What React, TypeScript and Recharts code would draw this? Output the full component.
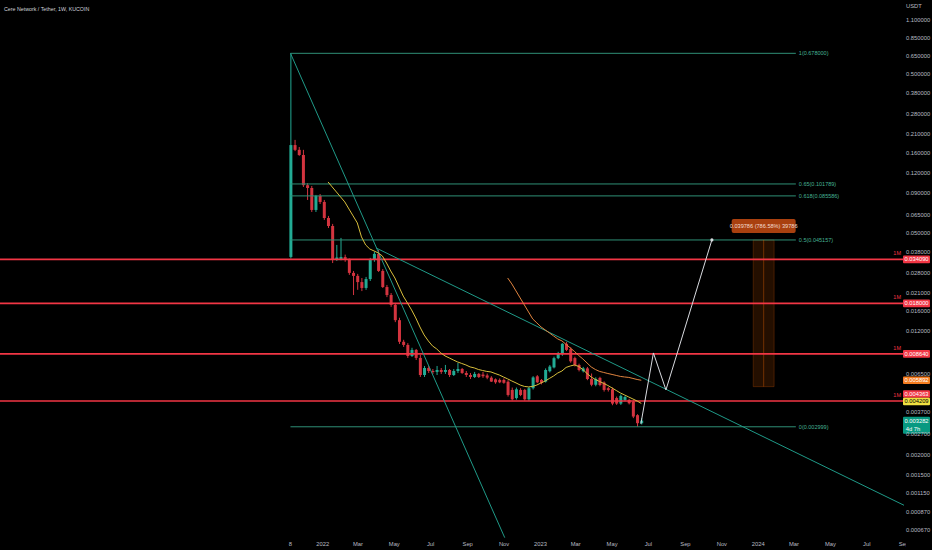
import React from "react";
import { ComposedChart, Bar, Line, XAxis, YAxis, ReferenceLine, ReferenceArea, ReferenceDot } from "recharts";

// weekly candles from the week of Nov 8 2021 (index = week number)
const opens = [
  0.0353, 0.179, 0.167, 0.155, 0.100, 0.0960, 0.0698, 0.0855, 0.0784, 0.0621,
  0.0553, 0.0338, 0.0342, 0.0352, 0.0343, 0.0280, 0.0268, 0.0245, 0.0225, 0.0256,
  0.0338, 0.0369, 0.0288, 0.0228, 0.0203, 0.0176, 0.0141, 0.0103, 0.00984, 0.00838,
  0.00915, 0.00815, 0.00636, 0.00704, 0.00674, 0.00665, 0.00684, 0.00665, 0.00684, 0.00636,
  0.00674, 0.00694, 0.00655, 0.00636, 0.00618, 0.00646, 0.00640, 0.00632, 0.00612, 0.00597,
  0.00592, 0.00592, 0.00577, 0.00512, 0.00455, 0.00512, 0.00512, 0.00447, 0.00525, 0.00624,
  0.00592, 0.00578, 0.00672, 0.00710, 0.00812, 0.00860, 0.0100, 0.00926, 0.00813, 0.00736,
  0.00672, 0.00700, 0.00600, 0.00552, 0.00610, 0.00570, 0.00525, 0.00517, 0.00455, 0.00420,
  0.00443, 0.00443, 0.00432, 0.00355, 0.00316,
];
const highs = [
  0.678, 0.193, 0.174, 0.167, 0.103, 0.0989, 0.0868, 0.0880, 0.0807, 0.0640,
  0.0570, 0.0420, 0.0465, 0.0365, 0.0345, 0.0288, 0.0276, 0.0260, 0.0264, 0.0348,
  0.0379, 0.0391, 0.0296, 0.0235, 0.0209, 0.0181, 0.0146, 0.0106, 0.0101, 0.00944,
  0.00928, 0.00851, 0.00725, 0.00725, 0.00694, 0.00725, 0.00704, 0.00736, 0.00694, 0.00694,
  0.00758, 0.00704, 0.00674, 0.00655, 0.00665, 0.00655, 0.00665, 0.00650, 0.00625, 0.00605,
  0.00605, 0.00605, 0.00590, 0.00530, 0.00530, 0.00525, 0.00520, 0.00535, 0.00625, 0.00635,
  0.00600, 0.00700, 0.00735, 0.00830, 0.00890, 0.0101, 0.0103, 0.00950, 0.00830, 0.00750,
  0.00715, 0.00715, 0.00650, 0.00615, 0.00620, 0.00580, 0.00535, 0.00530, 0.00465, 0.00480,
  0.00470, 0.00450, 0.00440, 0.00360, 0.00340,
];
const lows = [
  0.0345, 0.164, 0.153, 0.0974, 0.0807, 0.0678, 0.0678, 0.0761, 0.0604, 0.0537,
  0.0323, 0.0333, 0.0336, 0.0329, 0.0272, 0.0203, 0.0219, 0.0215, 0.0219, 0.0249,
  0.0329, 0.0284, 0.0225, 0.0197, 0.0171, 0.0137, 0.00998, 0.00956, 0.00815, 0.00826,
  0.00791, 0.00618, 0.00618, 0.00655, 0.00646, 0.00636, 0.00646, 0.00646, 0.00618, 0.00627,
  0.00655, 0.00646, 0.00618, 0.00600, 0.00609, 0.00609, 0.00610, 0.00598, 0.00575, 0.00560,
  0.00565, 0.00560, 0.00465, 0.00440, 0.00445, 0.00468, 0.00438, 0.00437, 0.00515, 0.00565,
  0.00555, 0.00570, 0.00660, 0.00700, 0.00800, 0.00840, 0.00900, 0.00760, 0.00720, 0.00670,
  0.00660, 0.00590, 0.00540, 0.00540, 0.00540, 0.00500, 0.00500, 0.00410, 0.00412, 0.00412,
  0.00435, 0.00415, 0.00340, 0.002999, 0.00310,
];
const closes = [
  0.179, 0.167, 0.155, 0.100, 0.0960, 0.0698, 0.0855, 0.0784, 0.0621, 0.0553,
  0.0338, 0.0350, 0.0352, 0.0343, 0.0280, 0.0268, 0.0245, 0.0225, 0.0256, 0.0338,
  0.0369, 0.0288, 0.0228, 0.0203, 0.0176, 0.0141, 0.0103, 0.00984, 0.00838, 0.00915,
  0.00815, 0.00636, 0.00704, 0.00674, 0.00665, 0.00684, 0.00665, 0.00684, 0.00636, 0.00674,
  0.00694, 0.00655, 0.00636, 0.00618, 0.00646, 0.00618, 0.00625, 0.00612, 0.00578, 0.00572,
  0.00572, 0.00568, 0.00476, 0.00447, 0.00517, 0.00476, 0.00447, 0.00525, 0.00614, 0.00572,
  0.00568, 0.00684, 0.00719, 0.00812, 0.00870, 0.0100, 0.00916, 0.00776, 0.00736, 0.00684,
  0.00700, 0.00600, 0.00552, 0.00600, 0.00550, 0.00512, 0.00512, 0.00420, 0.00420, 0.00470,
  0.00462, 0.00422, 0.00348, 0.00316, 0.003282,
];

// fast moving average (yellow), starts at week 9
const fastStart = 9;
const fastMa = [
  0.1048, 0.0974, 0.0906, 0.0843, 0.0784, 0.0708, 0.0640, 0.0578, 0.0472, 0.0420,
  0.0396, 0.0385, 0.0374, 0.0358, 0.0323, 0.0288, 0.0260, 0.0228, 0.0200, 0.0181,
  0.01635, 0.01456, 0.01277, 0.01137, 0.01043, 0.00970, 0.00929, 0.00876, 0.00839, 0.00815,
  0.00791, 0.00769, 0.00752, 0.00736, 0.00715, 0.00705, 0.00689, 0.00679, 0.00670, 0.00665,
  0.00650, 0.00636, 0.00618, 0.00601, 0.00583, 0.00567, 0.00550, 0.00539, 0.00535, 0.00539,
  0.00550, 0.00567, 0.00583, 0.00605, 0.00627, 0.00655, 0.00674, 0.00710, 0.00725, 0.00736,
  0.00720, 0.00689, 0.00650, 0.00618, 0.00596, 0.00579, 0.00563, 0.00546, 0.00527, 0.00508,
  0.00490, 0.00476, 0.00462, 0.00449, 0.00436, 0.004209,
];
// slow moving average (orange), starts at week 52
const slowStart = 52;
const slowMa = [
  0.0260, 0.02385, 0.02154, 0.01946, 0.01758, 0.01588, 0.01435, 0.01354, 0.01277, 0.01223,
  0.01171, 0.01121, 0.01073, 0.01043, 0.00991, 0.00942, 0.00895, 0.00845, 0.00803, 0.00758,
  0.00715, 0.00689, 0.00670, 0.00660, 0.00650, 0.00641, 0.00632, 0.00623, 0.00618, 0.00614,
  0.00605, 0.00596, 0.005892,
];

const timeTicks = [0, 7.71, 16.14, 24.86, 33.57, 42.43, 51.14, 59.86, 68.29, 77, 85.71, 94.57, 103.29, 112, 120.57, 129.29, 138, 146.86];
const timeLabels = ["8", "2022", "Mar", "May", "Jul", "Sep", "Nov", "2023", "Mar", "May", "Jul", "Sep", "Nov", "2024", "Mar", "May", "Jul", "Sep"];
const priceTicks = [1.1, 0.85, 0.65, 0.5, 0.38, 0.28, 0.21, 0.16, 0.12, 0.09, 0.065, 0.05, 0.038, 0.028, 0.021, 0.016, 0.012, 0.0065, 0.0037, 0.0027, 0.002, 0.0015, 0.00115, 0.00087, 0.00067];

const monthlyLevels = [0.03409, 0.018, 0.00864, 0.004363];
const fibRatios = [1, 0.65, 0.618, 0.5, 0];
const fibPrices = [0.678, 0.101789, 0.085586, 0.045157, 0.002999];
const fibEnd = 121;

// trend lines [week, price]
const athLine = [[0, 0.678], [51.3, 0.0006]];
const downTrend = [[20.5, 0.0402], [146.9, 0.00096]];
const pathWeeks = [83.9, 86.9, 89.9, 100.9];
const pathPrices = [0.00313, 0.00876, 0.00512, 0.045157];

const rangeWeeks = [110.8, 115.8];
const rangePrices = [0.005371, 0.045157];
const rangeText = "0.039786 (786.58%) 39786";

const lastPrice = 0.003282;
const fastLast = 0.004209;
const slowLast = 0.005892;

const UP = "#22ab94";
const DOWN = "#d3343f";
const RED = "#f23645";
const FIB = "#2f8f76";
const TEAL = "#1f9a88";
const FONT = "'Liberation Sans', Arial, sans-serif";

const rows = opens.map((o, i) => ({
  t: i,
  open: o,
  high: highs[i],
  low: lows[i],
  close: closes[i],
  range: [lows[i], highs[i]],
  fast: i >= fastStart ? fastMa[i - fastStart] : null,
  slow: i >= slowStart ? slowMa[i - slowStart] : null,
}));

function Candle(props: any) {
  const { x, y, width, height, payload } = props;
  if (!payload || height == null) return null;
  const { open, close, high, low } = payload;
  const color = close >= open ? UP : DOWN;
  const lh = Math.log(high);
  const span = lh - Math.log(low) || 1;
  const py = (v: number) => y + (height * (lh - Math.log(v))) / span;
  const top = py(Math.max(open, close));
  const bot = py(Math.min(open, close));
  const cx = x + width / 2;
  return (
    <g>
      <line x1={cx} x2={cx} y1={y} y2={y + height} stroke={color} strokeWidth={1} />
      <rect x={x} y={top} width={width} height={Math.max(bot - top, 1)} fill={color} />
    </g>
  );
}

const priceTag = (text: string, bg: string, fg: string, dy = 0, sub?: string, monthly = false) => (p: any) => {
  const vb = p.viewBox;
  const right = vb.x + vb.width;
  const cy = vb.y + dy;
  return (
    <g style={{ fontFamily: FONT }}>
      {monthly && (
        <text x={right - 3} y={vb.y - 6} dy="0.35em" textAnchor="end" fontSize={5.5} fill={RED}>1M</text>
      )}
      <rect x={right - 1} y={cy - 3.8} width={27} height={sub ? 17 : 7.6} rx={1} fill={bg} />
      <text x={right + 12.5} y={cy} dy="0.35em" textAnchor="middle" fontSize={5.8} fill={fg}>{text}</text>
      {sub && (
        <text x={right + 9} y={cy + 8} dy="0.35em" textAnchor="middle" fontSize={5.8} fill={fg}>{sub}</text>
      )}
    </g>
  );
};

const fibLabel = (text: string) => (p: any) => {
  const vb = p.viewBox;
  return (
    <text x={vb.x + vb.width + 3} y={vb.y} dy="0.35em" fontSize={5.5} fill="#45b393" style={{ fontFamily: FONT }}>
      {text}
    </text>
  );
};

const rangeLabel = (p: any) => {
  const vb = p.viewBox;
  const cx = vb.x + vb.width / 2;
  return (
    <g style={{ fontFamily: FONT }}>
      <rect x={cx - 32} y={vb.y - 21} width={64} height={14} rx={2} fill="#a9400f" />
      <text x={cx} y={vb.y - 14} dy="0.35em" textAnchor="middle" fontSize={5.6} fill="#f3ddd2">{rangeText}</text>
    </g>
  );
};

export default function App() {
  return (
    <div style={{ position: "absolute", left: 0, top: 0, width: 932, height: 550, background: "#000", overflow: "hidden", fontFamily: FONT }}>
      <ComposedChart width={932} height={550} data={rows} margin={{ top: 0, right: 0, bottom: 0, left: 0 }}>
        <XAxis
          dataKey="t"
          type="number"
          domain={[-69.55, 146.9]}
          allowDataOverflow
          ticks={timeTicks}
          interval={0}
          tickFormatter={(v: number) => timeLabels[timeTicks.indexOf(v)] ?? ""}
          height={12}
          tickSize={0}
          tickMargin={4}
          axisLine={false}
          tickLine={false}
          tick={{ fontSize: 5.8, fill: "#b8bbc3" }}
        />
        <YAxis
          orientation="right"
          scale="log"
          type="number"
          domain={[0.000597, 1.47]}
          allowDataOverflow
          ticks={priceTicks}
          interval={0}
          tickFormatter={(v: number) => v.toFixed(6)}
          width={28}
          tickSize={0}
          tickMargin={2}
          axisLine={false}
          tickLine={false}
          tick={{ fontSize: 5.8, fill: "#b8bbc3", textAnchor: "start" }}
        />

        {fibPrices.map((p, i) => (
          <ReferenceLine
            key={"fib" + i}
            segment={[{ x: 0, y: p }, { x: fibEnd, y: p }]}
            stroke={FIB}
            strokeWidth={1}
            ifOverflow="visible"
            label={fibLabel(`${fibRatios[i]}(${p.toFixed(6)})`)}
          />
        ))}

        <ReferenceArea
          x1={rangeWeeks[0]}
          x2={rangeWeeks[1]}
          y1={rangePrices[0]}
          y2={rangePrices[1]}
          fill="#ff6d00"
          fillOpacity={0.14}
          stroke="#ff6d00"
          strokeOpacity={0.22}
          ifOverflow="visible"
          label={rangeLabel}
        />
        <ReferenceLine
          segment={[{ x: (rangeWeeks[0] + rangeWeeks[1]) / 2, y: rangePrices[0] }, { x: (rangeWeeks[0] + rangeWeeks[1]) / 2, y: rangePrices[1] }]}
          stroke="#ff6d00"
          strokeOpacity={0.35}
          ifOverflow="visible"
        />

        {monthlyLevels.map((p, i) => (
          <ReferenceLine
            key={"lvl" + i}
            y={p}
            stroke={RED}
            strokeWidth={1.6}
            ifOverflow="visible"
            label={priceTag(p.toFixed(6), RED, "#ffffff", i === 3 ? -7 : 0, undefined, true)}
          />
        ))}

        <ReferenceLine
          segment={[{ x: athLine[0][0], y: athLine[0][1] }, { x: athLine[1][0], y: athLine[1][1] }]}
          stroke={TEAL}
          strokeWidth={1}
          ifOverflow="visible"
        />
        <ReferenceLine
          segment={[{ x: downTrend[0][0], y: downTrend[0][1] }, { x: downTrend[1][0], y: downTrend[1][1] }]}
          stroke={TEAL}
          strokeWidth={1}
          ifOverflow="visible"
        />

        <Line dataKey="fast" stroke="#d8bf3c" strokeWidth={1} dot={false} activeDot={false} isAnimationActive={false} />
        <Line dataKey="slow" stroke="#e0843f" strokeWidth={1} dot={false} activeDot={false} isAnimationActive={false} />

        <Bar dataKey="range" barSize={3} shape={Candle} isAnimationActive={false} />

        {pathWeeks.slice(1).map((w, i) => (
          <ReferenceLine
            key={"path" + i}
            segment={[{ x: pathWeeks[i], y: pathPrices[i] }, { x: w, y: pathPrices[i + 1] }]}
            stroke="#d9dbe0"
            strokeWidth={1}
            ifOverflow="visible"
          />
        ))}
        <ReferenceDot x={pathWeeks[3]} y={pathPrices[3]} r={1.6} fill="#d9dbe0" stroke="none" ifOverflow="visible" />

        <ReferenceLine y={slowLast} stroke="none" ifOverflow="visible" label={priceTag(slowLast.toFixed(6), "#f57c1f", "#ffffff")} />
        <ReferenceLine y={fastLast} stroke="none" ifOverflow="visible" label={priceTag(fastLast.toFixed(6), "#f0e040", "#000000", -2)} />
        <ReferenceLine y={lastPrice} stroke="none" ifOverflow="visible" label={priceTag(lastPrice.toFixed(6), "#089981", "#ffffff", 0, "4d 7h")} />
      </ComposedChart>

      <div style={{ position: "absolute", left: 4, top: 6, fontSize: 5.3, color: "#d1d4dc", whiteSpace: "nowrap" }}>
        Cere Network / Tether, 1W, KUCOIN
      </div>
      <div style={{ position: "absolute", left: 906, top: 3, fontSize: 5.8, color: "#b8bbc3" }}>USDT</div>
      <div style={{ position: "absolute", left: 906, top: 539, width: 26, height: 11, background: "#000" }} />
    </div>
  );
}
